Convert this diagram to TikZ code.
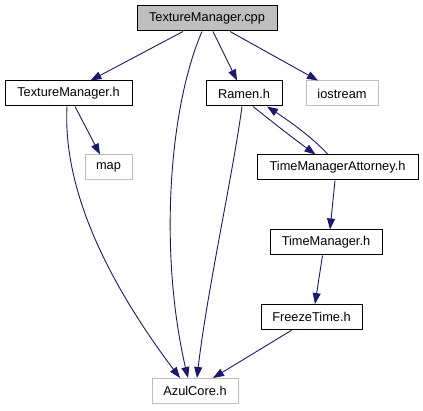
\documentclass[tikz,border=0pt]{standalone}
\usepackage{fontspec}
\setmainfont{Liberation Sans}
\usetikzlibrary{arrows.meta,bending}
\definecolor{edgeblue}{HTML}{191970}
\definecolor{lightgray}{HTML}{BFBFBF}
\tikzset{
  x=1pt,y=-1pt,
  box/.style={draw=black,line width=1pt,fill=white,inner sep=0pt,minimum height=25pt,
    font=\fontsize{12.8}{15}\selectfont},
  extbox/.style={box,draw=lightgray},
  rootbox/.style={box,fill=lightgray},
  edge/.style={draw=edgeblue,line width=0.9pt,-{Triangle[length=11pt,width=8pt]}},
}
\begin{document}
\begin{tikzpicture}
\useasboundingbox (0,0) rectangle (423,411);
\node[rootbox,minimum width=140pt] (cpp) at (207,18.5) {TextureManager.cpp};
\node[box,minimum width=127pt] (tmh) at (68.5,93.5) {TextureManager.h};
\node[extbox,minimum width=47pt] (map) at (108.5,167.5) {map};
\node[box,minimum width=76pt] (ramen) at (244,93.5) {Ramen.h};
\node[extbox,minimum width=72pt] (ios) at (342,93.5) {iostream};
\node[box,minimum width=161pt] (tma) at (337.5,167.5) {TimeManagerAttorney.h};
\node[box,minimum width=112pt] (tm) at (326,242.5) {TimeManager.h};
\node[box,minimum width=101pt] (ft) at (311.5,317) {FreezeTime.h};
\node[extbox,minimum width=86pt] (azul) at (195,391) {AzulCore.h};

\draw[edge] ([xshift=-24pt]cpp.south) -- ([xshift=22pt]tmh.north);
\draw[edge] ([xshift=-5pt]cpp.south) .. controls (168,110) and (158,260) .. ([xshift=-7pt]azul.north);
\draw[edge] ([xshift=6pt]cpp.south) -- ([xshift=-7pt]ramen.north);
\draw[edge] ([xshift=23pt]cpp.south) -- ([xshift=-24pt]ios.north);
\draw[edge] ([xshift=6.5pt]tmh.south) -- ([xshift=-8.5pt]map.north);
\draw[edge] ([xshift=-1.5pt]tmh.south) .. controls (62,200) and (120,300) .. ([xshift=-15pt]azul.north);
\draw[edge] ([xshift=-2pt]ramen.south) .. controls (232,180) and (205,300) .. ([xshift=2pt]azul.north);
\draw[edge] ([xshift=9pt]ramen.south) .. controls (270,120) and (295,140) .. ([xshift=-22pt]tma.north);
\draw[edge] ([xshift=-9.5pt]tma.north) .. controls (310,135) and (285,118) .. ([xshift=23pt]ramen.south);
\draw[edge] ([xshift=-2.5pt]tma.south) -- ([xshift=4pt]tm.north);
\draw[edge] ([xshift=-3.5pt]tm.south) -- ([xshift=3.5pt]ft.north);
\draw[edge] ([xshift=-19.5pt]ft.south) -- ([xshift=18pt]azul.north);
\end{tikzpicture}
\end{document}
